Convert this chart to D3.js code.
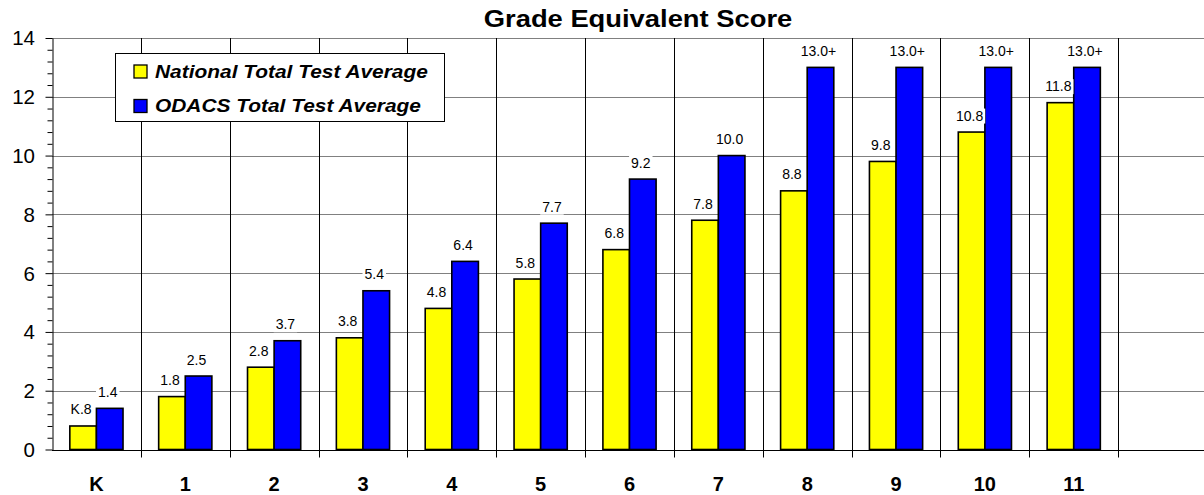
<!DOCTYPE html>
<html>
<head>
<meta charset="utf-8">
<script src="https://cdn.jsdelivr.net/npm/d3@7"></script>
<style>
  body { margin: 0; background: #fff; }
  svg { display: block; font-family: Arial, "Liberation Sans", sans-serif; }
</style>
</head>
<body>
<div id="chart"></div>
<script>
const grades = ['K', '1', '2', '3', '4', '5', '6', '7', '8', '9', '10', '11', ''];
const national = [0.8, 1.8, 2.8, 3.8, 4.8, 5.8, 6.8, 7.8, 8.8, 9.8, 10.8, 11.8];
const odacs = [1.4, 2.5, 3.7, 5.4, 6.4, 7.7, 9.2, 10.0, 13.0, 13.0, 13.0, 13.0];
const nationalLabels = ['K.8', '1.8', '2.8', '3.8', '4.8', '5.8', '6.8', '7.8', '8.8', '9.8', '10.8', '11.8'];
const odacsLabels = ['1.4', '2.5', '3.7', '5.4', '6.4', '7.7', '9.2', '10.0', '13.0+', '13.0+', '13.0+', '13.0+'];
const seriesNames = ['National Total Test Average', 'ODACS Total Test Average'];
const colors = ['#ffff00', '#0000ff'];
const yTicks = [0, 2, 4, 6, 8, 10, 12, 14];

const width = 1204;
const height = 495;
const margin = { top: 38, right: -3, bottom: 45.5, left: 52 };

const svg = d3.select('#chart')
  .append('svg')
  .attr('width', width)
  .attr('height', height);

const xScale = d3.scaleBand()
  .domain(grades)
  .range([margin.left, width - margin.right]);

const inner = d3.scaleBand()
  .domain([0, 1])
  .range([0, xScale.bandwidth()])
  .paddingOuter(0.67)
  .paddingInner(0);

const yScale = d3.scaleLinear()
  .domain([0, 14])
  .range([height - margin.bottom, margin.top]);

// horizontal gridlines
svg.append('g')
  .selectAll('line')
  .data(yTicks)
  .join('line')
  .attr('x1', margin.left)
  .attr('x2', width)
  .attr('y1', d => Math.round(yScale(d)) + 0.5)
  .attr('y2', d => Math.round(yScale(d)) + 0.5)
  .attr('stroke', '#808080')
  .attr('stroke-width', 1);

// vertical category separators
svg.append('g')
  .selectAll('line')
  .data(grades.slice(1))
  .join('line')
  .attr('x1', d => Math.round(xScale(d)) + 0.5)
  .attr('x2', d => Math.round(xScale(d)) + 0.5)
  .attr('y1', yScale(14))
  .attr('y2', yScale(0) + 8)
  .attr('stroke', '#000')
  .attr('stroke-width', 1);

// y axis
const yAxis = d3.axisLeft(yScale)
  .tickValues(d3.range(0, 14.01, 0.4))
  .tickSize(0)
  .tickFormat('');
const yg = svg.append('g')
  .attr('transform', `translate(${margin.left + 0.5},0)`)
  .call(yAxis);
yg.select('.domain').attr('stroke', '#000');
yg.selectAll('.tick line')
  .attr('stroke', '#000')
  .attr('x2', d => (Math.abs(d / 2 - Math.round(d / 2)) < 0.01 ? -7 : -5));
yg.selectAll('.tick text').remove();

svg.append('g')
  .selectAll('text')
  .data(yTicks)
  .join('text')
  .attr('x', 35)
  .attr('y', d => yScale(d))
  .attr('dy', '0.36em')
  .attr('text-anchor', 'end')
  .attr('font-size', 20.5)
  .text(d => d);

// bottom axis line
svg.append('line')
  .attr('x1', margin.left)
  .attr('x2', width)
  .attr('y1', Math.round(yScale(0)) + 0.5)
  .attr('y2', Math.round(yScale(0)) + 0.5)
  .attr('stroke', '#000');

// x labels
svg.append('g')
  .selectAll('text')
  .data(grades)
  .join('text')
  .attr('x', d => xScale(d) + xScale.bandwidth() / 2)
  .attr('y', 491)
  .attr('text-anchor', 'middle')
  .attr('font-size', 20)
  .attr('font-weight', 'bold')
  .text(d => d);

// bars
const rows = grades.slice(0, national.length).map((g, i) => ({
  grade: g,
  values: [
    { k: 0, v: national[i], label: nationalLabels[i] },
    { k: 1, v: odacs[i], label: odacsLabels[i] }
  ]
}));

const groups = svg.append('g')
  .selectAll('g')
  .data(rows)
  .join('g')
  .attr('transform', d => `translate(${xScale(d.grade)},0)`);

groups.selectAll('rect')
  .data(d => d.values)
  .join('rect')
  .attr('x', d => inner(d.k))
  .attr('width', inner.bandwidth())
  .attr('y', d => yScale(d.v))
  .attr('height', d => yScale(0) - yScale(d.v))
  .attr('fill', d => colors[d.k])
  .attr('stroke', '#000')
  .attr('stroke-width', 1.6);

// value labels with white backing
const labels = groups.selectAll('g.lbl')
  .data(d => d.values)
  .join('g')
  .attr('class', 'lbl')
  .attr('transform', d => `translate(${inner(d.k) + inner.bandwidth() / 2 - 2},${yScale(d.v) - 11.5})`);

const bg = labels.append('rect').attr('fill', '#fff');

labels.append('text')
  .attr('text-anchor', 'middle')
  .attr('font-size', 14)
  .text(d => d.label)
  .each(function () {
    const w = this.getComputedTextLength();
    d3.select(this.previousSibling)
      .attr('x', -w / 2 - 2)
      .attr('width', w + 4)
      .attr('y', -12)
      .attr('height', 15);
  });

// title
svg.append('text')
  .attr('transform', 'translate(638,27) scale(1.14,1)')
  .attr('text-anchor', 'middle')
  .attr('font-size', 24)
  .attr('font-weight', 'bold')
  .text('Grade Equivalent Score');

// legend
const legend = svg.append('g').attr('transform', 'translate(115.5,53.5)');
legend.append('rect')
  .attr('width', 329)
  .attr('height', 68)
  .attr('fill', '#fff')
  .attr('stroke', '#000')
  .attr('stroke-width', 1);

const items = legend.selectAll('g')
  .data(seriesNames)
  .join('g')
  .attr('transform', (d, i) => `translate(18.5,${24 + i * 34.5})`);

items.append('rect')
  .attr('y', -12.5)
  .attr('width', 13)
  .attr('height', 13)
  .attr('fill', (d, i) => colors[i])
  .attr('stroke', '#000')
  .attr('stroke-width', 1.3);

items.append('text')
  .attr('transform', 'translate(21,0) scale(1.1,1)')
  .attr('font-size', 19)
  .attr('font-weight', 'bold')
  .attr('font-style', 'italic')
  .text(d => d);
</script>
</body>
</html>
